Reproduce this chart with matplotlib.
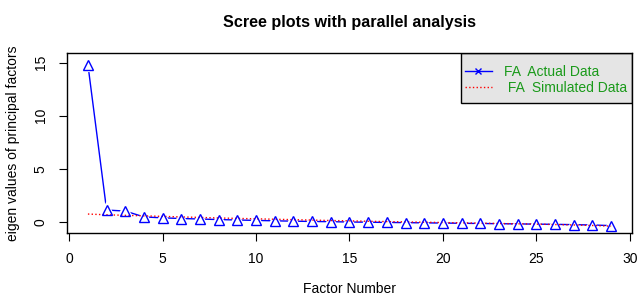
import matplotlib
matplotlib.use('agg')
import matplotlib.pyplot as plt
from matplotlib.lines import Line2D
from matplotlib.patches import Rectangle

plt.rcParams['font.family'] = ['Liberation Sans', 'DejaVu Sans']

# factor numbers and eigen values
factors = list(range(1, 30))
actual = [14.8, 1.1, 1.0, 0.45, 0.36, 0.3, 0.25, 0.2, 0.16, 0.12, 0.08, 0.05,
          0.02, 0.0, -0.03, -0.05, -0.07, -0.09, -0.11, -0.13, -0.15, -0.17,
          -0.19, -0.21, -0.23, -0.25, -0.28, -0.31, -0.37]
simulated = [0.72, 0.65, 0.6, 0.55, 0.5, 0.45, 0.4, 0.35, 0.31, 0.27, 0.23,
             0.19, 0.15, 0.11, 0.08, 0.04, 0.01, -0.02, -0.05, -0.08, -0.11,
             -0.14, -0.17, -0.2, -0.23, -0.27, -0.31, -0.36, -0.42]

fig = plt.figure(figsize=(6.38, 2.98), dpi=100)
ax = fig.add_axes([0.105, 0.218, 0.8856, 0.604])

# blue line with gaps round the points (like R type="b")
ax.plot(factors, actual, color='blue', lw=1, zorder=2)
ax.plot(factors, actual, ls='none', marker='^', ms=7.5, mfc='white',
        mec='white', mew=3, zorder=3)
ax.plot(factors, simulated, color='red', ls=':', lw=1, zorder=4)
ax.plot(factors, actual, ls='none', marker='^', ms=7.5, mfc='none',
        mec='blue', mew=1, zorder=5)

ax.set_xlim(-0.12, 30.12)
ax.set_ylim(-1.07, 15.9)
ax.set_xticks([0, 5, 10, 15, 20, 25, 30])
ax.set_yticks([0, 5, 10, 15])
ax.tick_params(direction='out', length=6, width=0.8, labelsize=10, pad=8)
for lab in ax.get_yticklabels():
    lab.set_rotation(90)
    lab.set_va('center')
for s in ax.spines.values():
    s.set_linewidth(1)
    s.set_zorder(10)

ax.set_title('Scree plots with parallel analysis', fontsize=11.6,
             fontweight='bold', pad=19)
ax.set_xlabel('Factor Number', fontsize=10, labelpad=11)
ax.set_ylabel('eigen values of principal factors', fontsize=10, labelpad=10)

# legend box, grey with black border, in the top right corner
ax.add_patch(Rectangle((0.697, 0.722), 0.303, 0.278, transform=ax.transAxes,
                       facecolor='#e5e5e5', edgecolor='black', lw=1,
                       zorder=8))
handles = [Line2D([], [], color='blue', lw=1, marker='x', ms=5),
           Line2D([], [], color='red', lw=1, ls=':')]
leg = ax.legend(handles, ['FA  Actual Data', ' FA  Simulated Data'],
                loc='upper left', bbox_to_anchor=(0.7, 0.95), fontsize=10,
                frameon=False, borderaxespad=0, borderpad=0.2,
                handlelength=1.9, labelspacing=0.15, handletextpad=0.9)
leg.set_zorder(9)
for t in leg.get_texts():
    t.set_color('#1a9a1a')

fig.savefig('out.png', dpi=100)
